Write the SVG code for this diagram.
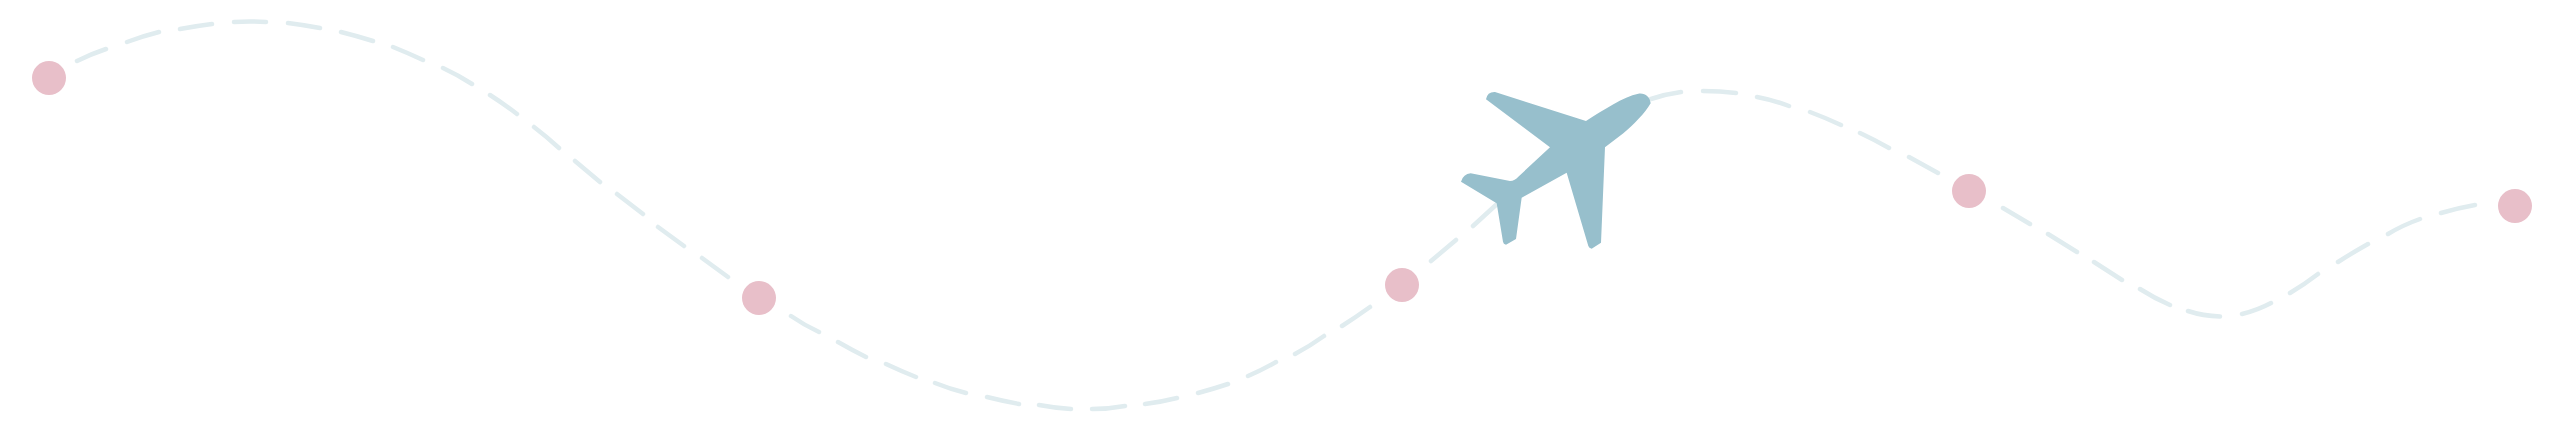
<svg xmlns="http://www.w3.org/2000/svg" width="2560" height="430" viewBox="0 0 2560 430">
<style>
.stop{fill:#e8bfc9}
.route{fill:none;stroke:#e0ecef;stroke-width:4.5;stroke-linecap:round}
.plane{fill:#97bfcc;filter:url(#soft)}
</style>
<defs><filter id="soft" x="-5%" y="-5%" width="110%" height="110%"><feGaussianBlur stdDeviation="0.6"/></filter></defs>
<rect width="2560" height="430" fill="#ffffff"/>
<g id="connectors">
<path class="route" d="M77 61Q91 54 106 49M127 42Q143 36 159 32M180 29Q196 26 212 24M234 22Q250 21 266 22M288 23Q304 25 320 28M341 32Q357 36 373 41M393 47Q408 53 423 60M443 68Q458 75 472 84M490 95Q504 104 517 114M534 127Q547 137 559 148M575 161L600 182M617 194L643 214M658 227L684 246M702 258L728 277M791 316Q804 325 819 332M838 342Q852 350 866 357M886 364Q901 371 916 377M935 383Q950 389 966 393M987 397Q1003 401 1019 404M1039 405Q1055 408 1071 409M1092 409Q1109 409 1125 406M1145 404Q1161 402 1177 398M1198 393Q1213 389 1228 384M1248 376Q1262 370 1276 362M1295 354Q1310 346 1324 336M1342 326Q1356 317 1370 307M1431 261L1456 240M1473 226L1497 204M1651 99Q1666 94 1681 92M1703 91Q1720 91 1736 93M1757 97Q1773 100 1789 106M1810 112Q1826 118 1841 125M1860 133Q1875 140 1889 148M1909 157L1938 173M2003 208L2030 224M2048 234L2077 252M2094 262L2122 280M2140 289Q2154 298 2170 305M2188 311Q2203 316 2220 316.500M2242 314Q2258 310 2271 303M2290 293Q2305 284 2318 274M2338 262Q2352 253 2368 244M2388 234Q2403 225 2420 219M2441 213Q2458 208 2475 205"/>
</g>
<g id="stop-1"><circle class="stop" cx="49" cy="78" r="17"/></g>
<g id="stop-2"><circle class="stop" cx="759" cy="298" r="17"/></g>
<g id="stop-3"><circle class="stop" cx="1402" cy="285" r="17"/></g>
<g id="stop-4"><circle class="stop" cx="1969" cy="191" r="17"/></g>
<g id="stop-5"><circle class="stop" cx="2515" cy="206" r="17"/></g>
<g id="plane">
<path class="plane" transform="translate(1400 50) scale(.33333)" d="M285 126L558 213C610 180 670 140 715 131C735 128 750 140 752 160C735 190 700 225 670 250L615 292L603 578L575 596Q567 595 565 588L500 368L365 443L348 567L318 584Q310 582 309 575L290 460L183 395Q190 372 212 370L330 393Q345 392 355 380L450 292L258 148Q262 125 285 126Z"/>
</g>
</svg>
